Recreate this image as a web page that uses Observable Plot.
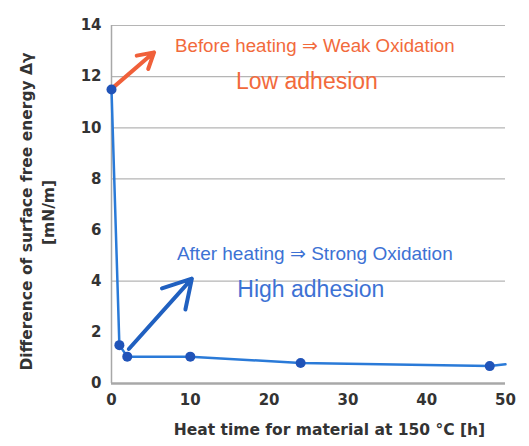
<!DOCTYPE html>
<html>
<head>
<meta charset="utf-8">
<script src="https://cdn.jsdelivr.net/npm/d3@7"></script>
<script src="https://cdn.jsdelivr.net/npm/@observablehq/plot@0.6"></script>
<style>
  html, body { margin: 0; padding: 0; background: #fff; }
  #chart svg { display: block; }
</style>
</head>
<body>
<div id="chart"></div>
<script>
// Data
const heatTime = [0, 1, 2, 10, 24, 48];
const deltaGamma = [11.5, 1.5, 1.05, 1.05, 0.8, 0.68];
const lineEndTime = [48, 50];
const lineEndValue = [0.68, 0.75];
const xTicks = [0, 10, 20, 30, 40, 50];
const yTicks = [0, 2, 4, 6, 8, 10, 12, 14];
const gridValues = [4, 8, 10, 12, 14];

const pts = heatTime.map((t, i) => ({t, v: deltaGamma[i]}));
const tail = lineEndTime.map((t, i) => ({t, v: lineEndValue[i]}));

const beforeArrow = [{x1: 0.3, y1: 11.6, x2: 5.4, y2: 12.95}];
const afterArrow = [{x1: 2.2, y1: 1.35, x2: 10.2, y2: 4.1}];

const notes = [
  {x: 25.8, y: 13.2, text: "Before heating ⇒ Weak Oxidation", color: "#f26a3c", size: 18.7},
  {x: 24.8, y: 11.8, text: "Low adhesion", color: "#f26a3c", size: 23},
  {x: 25.8, y: 5.08, text: "After heating ⇒ Strong Oxidation", color: "#3d72d4", size: 19},
  {x: 25.3, y: 3.67, text: "High adhesion", color: "#3d72d4", size: 23}
];

const font = "DejaVu Sans, Liberation Sans, Arial, sans-serif";

const chart = Plot.plot({
  width: 529,
  height: 446,
  marginLeft: 111,
  marginRight: 24,
  marginTop: 25,
  marginBottom: 63,
  style: {fontFamily: font, background: "#fff", color: "#222"},
  x: {domain: [0, 50], ticks: xTicks, label: null, tickSize: 0, tickPadding: 9},
  y: {domain: [0, 14], ticks: yTicks, label: null, tickSize: 0, tickPadding: 10},
  marks: [
    Plot.ruleY(gridValues, {stroke: "#b5b5b5", strokeWidth: 1.2, strokeDasharray: d => (d === 8 || d === 10) ? "2,2" : null}),
    Plot.ruleX([0], {stroke: "#a8a8a8", strokeWidth: 1.5}),
    Plot.ruleY([0], {stroke: "#a8a8a8", strokeWidth: 2.5}),
    Plot.axisX({ticks: xTicks, tickSize: 0, tickPadding: 11, fontSize: 15, fontWeight: "bold", fill: "#333", label: null}),
    Plot.axisY({ticks: yTicks, tickSize: 0, tickPadding: 10, fontSize: 15, fontWeight: "bold", fill: "#333", label: null}),
    Plot.line(pts, {x: "t", y: "v", stroke: "#2a7ad8", strokeWidth: 2.5}),
    Plot.line(tail, {x: "t", y: "v", stroke: "#2a7ad8", strokeWidth: 2.5}),
    Plot.arrow(beforeArrow, {x1: "x1", y1: "y1", x2: "x2", y2: "y2", stroke: "#f0603a", strokeWidth: 4, headLength: 12}),
    Plot.arrow(afterArrow, {x1: "x1", y1: "y1", x2: "x2", y2: "y2", stroke: "#2060c0", strokeWidth: 4, headLength: 12}),
    Plot.dot(pts, {x: "t", y: "v", r: 5, fill: "#2053b8"}),
    Plot.text(notes, {x: "x", y: "y", text: "text", fill: "color", fontSize: "size", fontFamily: "Liberation Sans, Arial, sans-serif", textAnchor: "middle"}),
    Plot.text(["Difference of surface free energy Δγ"], {frameAnchor: "left", textAnchor: "middle", rotate: -90, dx: -84, dy: 7, fontSize: 15.5, fontWeight: "bold", fill: "#333"}),
    Plot.text(["[mN/m]"], {frameAnchor: "left", textAnchor: "middle", rotate: -90, dx: -62, dy: 8, fontSize: 15.5, fontWeight: "bold", fill: "#333"}),
    Plot.text(["Heat time for material at 150 °C [h]"], {frameAnchor: "bottom", textAnchor: "middle", dy: 51, dx: 21, fontSize: 15.5, fontWeight: "bold", fill: "#333"})
  ]
});
document.getElementById("chart").appendChild(chart);
</script>
</body>
</html>
